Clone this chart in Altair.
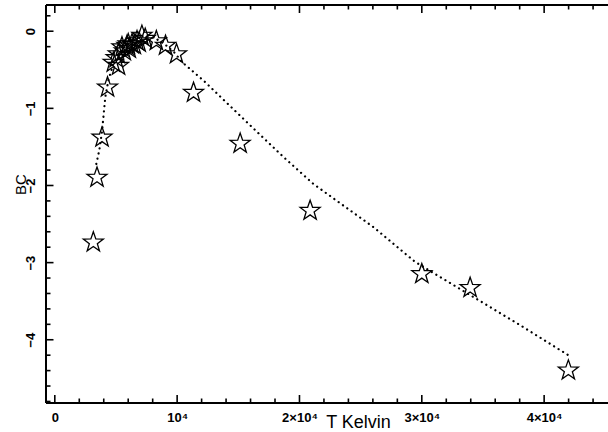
import math
import altair as alt
import pandas as pd

# ---- data ----
T_star = [3150, 3450, 3860, 4310, 4780, 5210, 5020, 5190, 5490, 5680, 5900,
          6000, 6090, 6310, 6500, 6720, 6900, 7120, 7390, 8300, 9050, 9950,
          11340, 15150, 20870, 30000, 33950, 41980]
BC_star = [-2.73, -1.89, -1.37, -0.72, -0.40, -0.44, -0.34, -0.29, -0.20, -0.25, -0.18,
           -0.16, -0.22, -0.16, -0.17, -0.12, -0.14, -0.05, -0.09, -0.12, -0.18, -0.29,
           -0.79, -1.45, -2.32, -3.14, -3.32, -4.39]

T_line = [3390, 3640, 3860, 4130, 4400, 4800, 5200, 5600, 6300, 7000, 7600, 8300,
          9000, 9800, 10400, 12160, 15970, 18690, 21140, 26050, 29450, 31220,
          33950, 38030, 41980]
BC_line = [-1.72, -1.54, -1.30, -0.85, -0.62, -0.42, -0.30, -0.22, -0.13, -0.07, -0.06, -0.10,
           -0.17, -0.28, -0.40, -0.64, -1.22, -1.63, -1.98, -2.54, -2.99, -3.16,
           -3.42, -3.81, -4.20]

x_major = [0, 10000, 20000, 30000, 40000]
x_minor = [v for v in range(2000, 46000, 2000) if v % 10000 != 0]
y_major = [-4, -3, -2, -1, 0]
y_minor = [round(-4.8 + 0.2 * i, 1) for i in range(26)]
y_minor = [v for v in y_minor if abs(v - round(v)) > 1e-6]

W, H = 562, 398
xscale = alt.Scale(domain=[-720, 45220], nice=False, zero=False)
yscale = alt.Scale(domain=[-4.82, 0.34], nice=False, zero=False)

# five-pointed star outline in the unit box
pts = []
for i in range(10):
    r = 1.0 if i % 2 == 0 else 0.40
    a = math.pi / 2 + i * math.pi / 5
    pts.append((r * math.cos(a), -r * math.sin(a) + 0.05))
star_path = "M" + "L".join(f"{x:.3f},{y:.3f}" for x, y in pts) + "Z"

stars_df = pd.DataFrame({"T": T_star, "BC": BC_star})
line_df = pd.DataFrame({"T": T_line, "BC": BC_line})

xaxis = alt.Axis(values=x_major, ticks=False, domain=False, grid=False,
                 labelExpr="datum.value == 0 ? '0' : datum.value == 10000 ? '10⁴' : (datum.value/10000) + '×10⁴'",
                 labelFont="Liberation Sans", labelFontSize=13, labelFontWeight="bold",
                 labelColor="black", labelPadding=8, labelFlush=False,
                 title="T Kelvin", titleFont="Liberation Sans", titleFontSize=18,
                 titleFontWeight="normal", titleColor="black",
                 titleX=312, titleY=24, titleAlign="center", titleBaseline="alphabetic")
yaxis = alt.Axis(values=y_major, ticks=False, domain=False, grid=False,
                 labelAngle=270, labelAlign="center", labelBaseline="alphabetic",
                 labelFont="Liberation Sans", labelFontSize=13, labelFontWeight="bold",
                 labelColor="black", labelPadding=12, labelFlush=False,
                 title="BC", titleFont="Liberation Sans", titleFontSize=15,
                 titleFontWeight="normal", titleColor="black", titleAngle=270,
                 titleX=-21, titleY=179, titleAlign="center", titleBaseline="alphabetic")

stars = alt.Chart(stars_df).mark_point(
    shape=star_path, size=441, filled=False, stroke="black", strokeWidth=1.3, opacity=1
).encode(
    x=alt.X("T:Q", scale=xscale, axis=xaxis),
    y=alt.Y("BC:Q", scale=yscale, axis=yaxis),
)

line = alt.Chart(line_df).mark_line(
    color="black", strokeWidth=2.2, strokeDash=[0.1, 5.2], strokeCap="round"
).encode(
    x=alt.X("T:Q", scale=xscale, axis=xaxis),
    y=alt.Y("BC:Q", scale=yscale, axis=yaxis),
)

def xticks(vals, length):
    df = pd.DataFrame({"T": vals})
    bottom = alt.Chart(df).mark_rule(color="black", strokeWidth=1.6).encode(
        x=alt.X("T:Q", scale=xscale, axis=xaxis), y=alt.value(H), y2=alt.value(H - length))
    top = alt.Chart(df).mark_rule(color="black", strokeWidth=1.6).encode(
        x=alt.X("T:Q", scale=xscale, axis=xaxis), y=alt.value(0), y2=alt.value(length))
    return [bottom, top]

def yticks(vals, length):
    df = pd.DataFrame({"BC": vals})
    return [alt.Chart(df).mark_rule(color="black", strokeWidth=1.6).encode(
        y=alt.Y("BC:Q", scale=yscale, axis=yaxis), x=alt.value(0), x2=alt.value(length))]

frame_df = pd.DataFrame({"k": [0]})
frame = [
    alt.Chart(frame_df).mark_rule(color="black", strokeWidth=2).encode(
        x=alt.value(0), y=alt.value(0), y2=alt.value(H)),
    alt.Chart(frame_df).mark_rule(color="black", strokeWidth=2).encode(
        y=alt.value(0), x=alt.value(0), x2=alt.value(W)),
    alt.Chart(frame_df).mark_rule(color="black", strokeWidth=2).encode(
        y=alt.value(H), x=alt.value(0), x2=alt.value(W)),
]

layers = [stars, line] + xticks(x_major, 8) + xticks(x_minor, 4.5) \
    + yticks(y_major, 7.5) + yticks(y_minor, 4.5) + frame

chart = alt.layer(*layers).properties(
    width=W, height=H,
    autosize=alt.AutoSizeParams(type="none"),
    padding={"left": 46, "top": 5, "right": 0, "bottom": 29},
    background="white",
).configure_view(stroke=None)

chart.save("out.html", embed_options={"renderer": "svg", "actions": False})
